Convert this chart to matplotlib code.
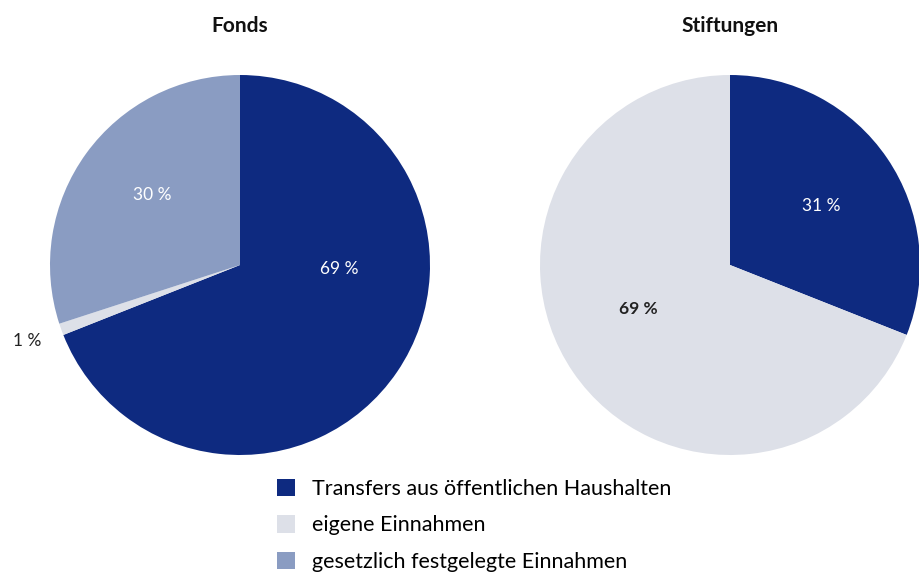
import matplotlib
matplotlib.use("Agg")
import matplotlib.pyplot as plt

plt.rcParams["font.family"] = ["Lato", "DejaVu Sans"]

# data
CATEGORIES = ["Transfers aus öffentlichen Haushalten", "eigene Einnahmen",
              "gesetzlich festgelegte Einnahmen"]
COLORS = ["#0e2a80", "#dde0e8", "#8a9cc2"]

FONDS_VALUES = [69, 1, 30]
STIFT_VALUES = [31, 69, 0]

TITLES = ["Fonds", "Stiftungen"]

# label positions (in pie radius units) and colors
FONDS_LABELS = [("69 %", 0.52, -0.02, "white"), ("1 %", -1.12, -0.40, "#222222"),
                ("30 %", -0.46, 0.37, "white")]
STIFT_LABELS = [("31 %", 0.48, 0.31, "white"), ("69 %", -0.48, -0.23, "#222222")]

fig = plt.figure(figsize=(9.19, 5.79), dpi=100)

W, H = 919, 579


def pie_axes(cx, cy, r):
    return fig.add_axes([(cx - r) / W, 1 - (cy + r) / H, 2 * r / W, 2 * r / H])


ax1 = pie_axes(240, 265, 190)
ax2 = pie_axes(730, 265, 190)

wedges, _ = ax1.pie(FONDS_VALUES, colors=COLORS, startangle=90,
                    counterclock=False, radius=1.0)
ax2.pie(STIFT_VALUES[:2], colors=COLORS[:2], startangle=90,
        counterclock=False, radius=1.0)

for ax, labels, title in [(ax1, FONDS_LABELS, TITLES[0]), (ax2, STIFT_LABELS, TITLES[1])]:
    ax.set_xlim(-1, 1)
    ax.set_ylim(-1, 1)
    ax.set_aspect("equal")
    for txt, x, y, c in labels:
        ax.text(x, y, txt, ha="center", va="center", fontsize=12.5, color=c,
                fontweight="bold" if c != "white" and txt == "69 %" else "normal")
    ax.text(0, 1.26, title, ha="center", va="center", fontsize=15,
            fontweight="bold", color="#111111")

fig.legend(wedges, CATEGORIES, loc="upper left",
           bbox_to_anchor=(268 / W, 1 - 470 / H), frameon=False,
           fontsize=15.5, handlelength=0.85, handleheight=0.85,
           labelspacing=0.78, handletextpad=0.8, borderaxespad=0)

fig.savefig("out.png", dpi=100)
